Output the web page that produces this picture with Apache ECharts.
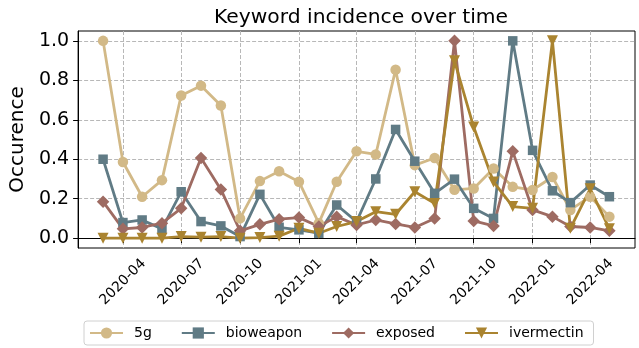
<!DOCTYPE html>
<html>
<head>
<meta charset="utf-8">
<script src="https://cdn.jsdelivr.net/npm/echarts@6/dist/echarts.min.js"></script>
<style>
  html, body { margin: 0; padding: 0; background: #fff; }
  #chart { width: 639px; height: 348px; }
</style>
</head>
<body>
<div id="chart"></div>
<script>
// monthly points, 2020-03 .. 2022-05
const months = [
  '2020-03-01', '2020-04-01', '2020-05-01', '2020-06-01', '2020-07-01', '2020-08-01',
  '2020-09-01', '2020-10-01', '2020-11-01', '2020-12-01',
  '2021-01-01', '2021-02-01', '2021-03-01', '2021-04-01', '2021-05-01', '2021-06-01',
  '2021-07-01', '2021-08-01', '2021-09-01', '2021-10-01', '2021-11-01', '2021-12-01',
  '2022-01-01', '2022-02-01', '2022-03-01', '2022-04-01', '2022-05-01'
];

const fiveG = [1.0, 0.386, 0.21, 0.294, 0.723, 0.773, 0.672, 0.10, 0.289, 0.339,
  0.286, 0.076, 0.286, 0.44, 0.424, 0.854, 0.37, 0.406, 0.245, 0.252, 0.353, 0.26,
  0.244, 0.31, 0.143, 0.21, 0.109];
const bioweapon = [0.40, 0.079, 0.092, 0.047, 0.235, 0.084, 0.062, 0.008, 0.222, 0.055,
  0.042, 0.025, 0.168, 0.084, 0.30, 0.551, 0.39, 0.227, 0.299, 0.151, 0.10, 1.0,
  0.445, 0.24, 0.18, 0.269, 0.21];
const exposed = [0.185, 0.047, 0.054, 0.076, 0.151, 0.406, 0.247, 0.037, 0.07, 0.096,
  0.104, 0.059, 0.109, 0.067, 0.092, 0.072, 0.054, 0.10, 1.0, 0.087, 0.062, 0.44,
  0.143, 0.109, 0.059, 0.054, 0.037];
const ivermectin = [0.0, 0.0, 0.0, 0.0, 0.008, 0.005, 0.008, 0.0, 0.003, 0.01,
  0.05, 0.025, 0.059, 0.084, 0.134, 0.121, 0.235, 0.176, 0.899, 0.563, 0.285, 0.16,
  0.151, 1.0, 0.05, 0.25, 0.047];

const xTicks = ['2020-04-01', '2020-07-01', '2020-10-01', '2021-01-01', '2021-04-01',
  '2021-07-01', '2021-10-01', '2022-01-01', '2022-04-01'];
const yTicks = [0, 0.2, 0.4, 0.6, 0.8, 1.0];

const FONT = 'DejaVu Sans';
const ts = d => new Date(d + 'T00:00:00Z').getTime();
const pad = n => (n < 10 ? '0' : '') + n;

const gridLine = { show: true, lineStyle: { color: '#b8b8b8', type: [4, 2], width: 1 } };

function line(name, values, color, symbol, size, rotate) {
  return {
    name: name,
    type: 'line',
    data: months.map((m, i) => [ts(m), values[i]]),
    symbol: symbol,
    symbolSize: size,
    symbolRotate: rotate || 0,
    showAllSymbol: true,
    lineStyle: { color: color, width: 2.8 },
    itemStyle: { color: color },
    emphasis: { disabled: true }
  };
}

const chart = echarts.init(document.getElementById('chart'), null, { renderer: 'canvas' });
chart.setOption({
  animation: false,
  backgroundColor: '#fff',
  textStyle: { fontFamily: FONT },
  title: {
    text: 'Keyword incidence over time',
    left: 356, top: 3, textAlign: 'center',
    textStyle: { fontFamily: FONT, fontSize: 20.3, fontWeight: 'normal', color: '#000' }
  },
  grid: {
    left: 76, right: 4, top: 31, bottom: 100,
    show: true, borderColor: '#000', borderWidth: 1
  },
  legend: {
    left: 84, top: 321,
    padding: [5, 10, 5, 5],
    itemGap: 29,
    itemWidth: 33, itemHeight: 14,
    borderColor: '#d0d0d0', borderWidth: 1, borderRadius: 3,
    textStyle: { fontFamily: FONT, fontSize: 14, color: '#000', padding: [0, 0, 0, 6] },
    data: ['5g', 'bioweapon', 'exposed', 'ivermectin']
  },
  xAxis: {
    type: 'value',
    min: ts('2020-01-22'), max: ts('2022-06-10'),
    axisLine: { show: true, lineStyle: { color: '#000', width: 1 } },
    axisTick: { show: true, length: 5, lineStyle: { color: '#000' }, customValues: xTicks.map(ts) },
    axisLabel: {
      customValues: xTicks.map(ts),
      rotate: 45, align: 'center', verticalAlign: 'middle', margin: 34,
      fontFamily: FONT, fontSize: 14, color: '#000',
      formatter: v => { const d = new Date(v); return d.getUTCFullYear() + '-' + pad(d.getUTCMonth() + 1); }
    },
    splitLine: gridLine
  },
  yAxis: {
    type: 'value',
    min: -0.05, max: 1.05,
    name: 'Occurence', nameLocation: 'middle', nameGap: 42,
    nameTextStyle: { fontFamily: FONT, fontSize: 20, color: '#000' },
    axisLine: { show: true, lineStyle: { color: '#000', width: 1 } },
    axisTick: { show: true, length: 5, lineStyle: { color: '#000' }, customValues: yTicks },
    axisLabel: {
      customValues: yTicks, margin: 9,
      fontFamily: FONT, fontSize: 19, color: '#000',
      formatter: v => v.toFixed(1)
    },
    splitLine: gridLine
  },
  series: [
    line('5g', fiveG, '#d2b987', 'circle', 10.5),
    line('bioweapon', bioweapon, '#607b85', 'rect', 9.5),
    line('exposed', exposed, '#9e6b62', 'diamond', 12.5),
    line('ivermectin', ivermectin, '#aa8430', 'triangle', 11, 180)
  ]
});
</script>
</body>
</html>
